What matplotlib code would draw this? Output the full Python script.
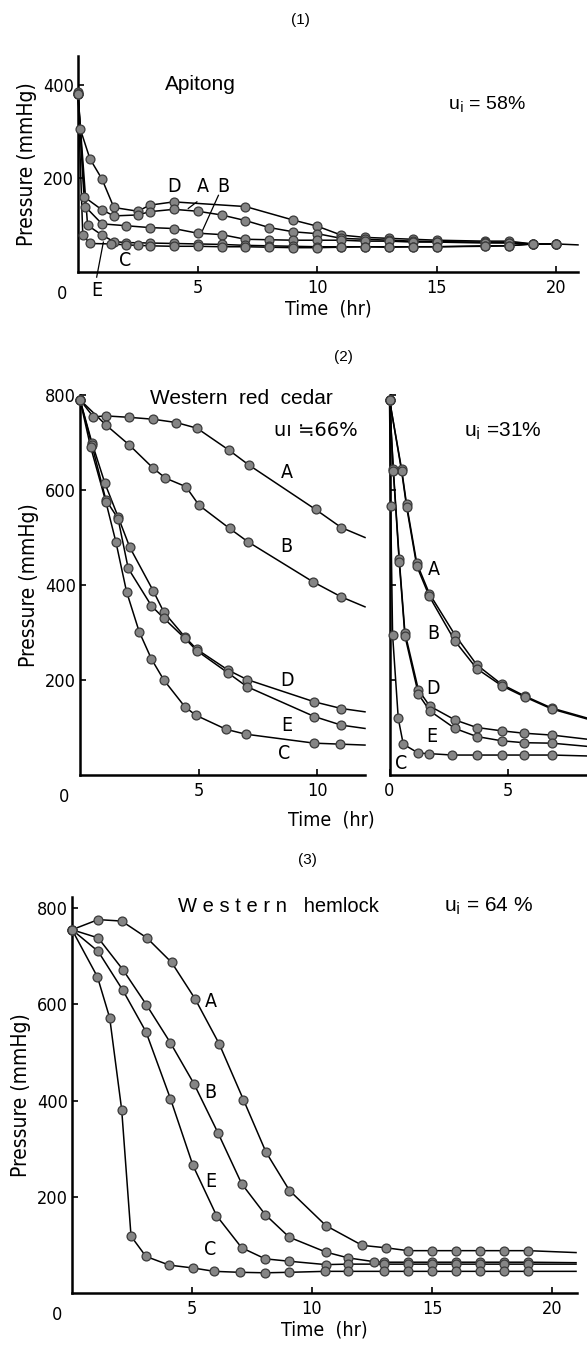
import matplotlib
matplotlib.use("Agg")
import matplotlib.pyplot as plt

# ---------------- data ----------------
# (1) Apitong, ui = 58 %
ap_D_t = [0, 0.1, 0.5, 1, 1.5, 2.5, 3, 4, 7, 9, 10, 11, 12, 13, 14, 15, 17, 18, 19, 20]
ap_D_p = [385, 305, 242, 199, 138, 130, 143, 150, 140, 111, 98, 79, 74, 72, 70, 68, 66, 66, 60, 60]
ap_A_t = [0, 0.25, 1, 1.5, 2.5, 3, 4, 5, 6, 7, 8, 9, 10, 11, 12, 13, 14, 15, 17, 18, 19, 20]
ap_A_p = [380, 161, 133, 120, 122, 129, 134, 130, 122, 110, 95, 86, 82, 72, 70, 68, 66, 65, 64, 63, 60, 60]
ap_B_t = [0, 0.3, 1, 2, 3, 4, 5, 6, 7, 8, 9, 10, 11, 12, 13, 14, 15, 17, 18, 19, 20]
ap_B_p = [380, 140, 103, 99, 95, 93, 83, 80, 70, 69, 68, 68, 68, 66, 66, 64, 64, 62, 62, 60, 60]
ap_E_t = [0, 0.4, 1, 1.5, 2, 3, 4, 5, 6, 7, 8, 9, 10, 11, 12, 13, 14, 15, 17, 18, 19, 20]
ap_E_p = [380, 100, 79, 65, 63, 62, 61, 60, 59, 57, 56, 55, 54, 54, 54, 54, 54, 54, 56, 56, 60, 60]
ap_C_t = [0, 0.2, 0.5, 1.4, 2, 2.5, 3, 4, 5, 6, 7, 8, 9, 10, 11, 12, 13, 14, 15, 17, 18, 19, 20]
ap_C_p = [380, 79, 61, 60, 58, 57, 56, 55, 55, 54, 54, 53, 52, 52, 53, 54, 53, 54, 54, 55, 56, 60, 60]

# (2) Western red cedar, ui = 66 %
rc_A_t = [0, 0.56, 1.09, 2.07, 3.08, 4.06, 4.93, 6.27, 7.1, 9.92, 11.0, 12.0]
rc_A_p = [790, 754, 756, 753, 749, 742, 730, 684, 653, 559, 521, 500]
rc_B_t = [0, 1.09, 2.07, 3.08, 3.6, 4.46, 5.01, 6.3, 7.07, 9.8, 11.0, 12.0]
rc_B_p = [790, 737, 695, 646, 625, 607, 568, 519, 491, 407, 375, 354]
rc_D_t = [0, 0.5, 1.05, 1.6, 2.1, 3.08, 3.53, 4.41, 4.91, 6.23, 7.03, 9.87, 11.0, 12.0]
rc_D_p = [790, 700, 614, 544, 479, 388, 343, 291, 265, 221, 201, 154, 140, 133]
rc_E_t = [0, 0.5, 1.09, 1.6, 2.03, 3.01, 3.53, 4.41, 4.91, 6.23, 7.03, 9.87, 11.0, 12.0]
rc_E_p = [790, 695, 579, 540, 435, 356, 330, 288, 262, 215, 186, 123, 105, 98]
rc_C_t = [0, 0.45, 1.09, 1.51, 1.96, 2.49, 3.01, 3.53, 4.41, 4.87, 6.16, 6.97, 9.87, 10.95, 12.0]
rc_C_p = [790, 690, 575, 491, 386, 302, 244, 200, 144, 126, 96, 86, 67, 65, 63]

# (2) right, ui = 31 %
rc31_A_t = [0, 0.51, 0.72, 1.15, 1.68, 2.76, 3.68, 4.73, 5.72, 6.84, 8.4]
rc31_A_p = [790, 644, 570, 446, 382, 295, 232, 191, 166, 141, 119]
rc31_B_t = [0, 0.51, 0.72, 1.15, 1.68, 2.76, 3.68, 4.73, 5.72, 6.84, 8.4]
rc31_B_p = [790, 640, 565, 440, 376, 282, 224, 188, 164, 139, 117]
rc31_D_t = [0, 0.16, 0.41, 0.65, 1.22, 1.7, 2.76, 3.68, 4.73, 5.67, 6.86, 8.4]
rc31_D_p = [790, 645, 455, 300, 179, 145, 116, 100, 93, 88, 84, 75]
rc31_E_t = [0, 0.16, 0.41, 0.65, 1.22, 1.7, 2.76, 3.68, 4.73, 5.67, 6.86, 8.4]
rc31_E_p = [790, 640, 449, 293, 170, 135, 98, 81, 72, 68, 67, 60]
rc31_C_t = [0, 0.05, 0.13, 0.37, 0.58, 1.22, 1.68, 2.65, 3.68, 4.73, 5.67, 6.86, 8.4]
rc31_C_p = [790, 567, 295, 119, 65, 46, 45, 42, 42, 42, 42, 42, 40]

# (3) Western hemlock, ui = 64 %
wh_A_t = [0, 1.09, 2.07, 3.12, 4.15, 5.12, 6.13, 7.14, 8.08, 9.06, 10.58, 12.09, 13.07, 14, 15, 16, 17, 18, 19, 21]
wh_A_p = [755, 776, 773, 738, 687, 612, 518, 402, 293, 213, 140, 99, 94, 88, 88, 88, 88, 88, 88, 84]
wh_B_t = [0, 1.09, 2.12, 3.1, 4.1, 5.08, 6.08, 7.07, 8.05, 9.05, 10.58, 11.5, 12.6, 13, 14, 15, 16, 17, 18, 19, 21]
wh_B_p = [755, 738, 672, 599, 520, 435, 333, 227, 163, 116, 85, 73, 65, 64, 64, 64, 64, 64, 64, 64, 63]
wh_E_t = [0, 1.09, 2.12, 3.08, 4.1, 5.04, 6.02, 7.07, 8.05, 9.05, 10.58, 11.5, 13, 14, 15, 16, 17, 18, 19, 21]
wh_E_p = [755, 710, 629, 543, 404, 265, 161, 94, 71, 66, 59, 60, 60, 60, 60, 60, 60, 60, 60, 60]
wh_C_t = [0, 1.06, 1.57, 2.07, 2.46, 3.08, 4.05, 5.04, 5.93, 6.99, 8.05, 9.04, 10.55, 11.5, 13, 14, 15, 16, 17, 18, 19, 21]
wh_C_p = [755, 657, 572, 381, 118, 76, 58, 52, 45, 43, 42, 43, 45, 45, 45, 45, 45, 45, 45, 45, 45, 45]

# ---------------- layout helpers ----------------
W, H = 587, 1352
fig = plt.figure(figsize=(W / 100, H / 100), dpi=100)

NARROW = dict(family="DejaVu Sans", stretch="condensed")
SANS = dict(family=["Liberation Sans", "DejaVu Sans"])


def px_axes(x0, x1, y_top, y_bot):
    return fig.add_axes([x0 / W, 1 - y_bot / H, (x1 - x0) / W, (y_bot - y_top) / H])


def style(ax, xlim, ylim, xt, yt, ylabels=True):
    ax.set_xlim(*xlim)
    ax.set_ylim(*ylim)
    for s in ["top", "right"]:
        ax.spines[s].set_visible(False)
    for s in ["left", "bottom"]:
        ax.spines[s].set_linewidth(1.8)
    ax.set_xticks(xt)
    ax.set_yticks(yt)
    ax.tick_params(direction="in", length=4, width=1.2, pad=5)
    ax.tick_params(axis="y", pad=3)
    for lab in ax.get_xticklabels() + ax.get_yticklabels():
        lab.set_family("DejaVu Sans")
        lab.set_stretch("condensed")
        lab.set_fontsize(13)
    if not ylabels:
        ax.set_yticklabels([])


def curve(ax, t, p, last_marker=True):
    ax.plot(t, p, color="black", lw=1.1, zorder=2, clip_on=False)
    n = len(t) if last_marker else len(t) - 1
    ax.plot(t[:n], p[:n], ls="none", marker="o", ms=6.4, mfc="#858585",
            mec="#3a3a3a", mew=0.9, zorder=3, clip_on=False)


def letter(ax, x, y, s):
    ax.text(x, y, s, fontsize=14, ha="center", va="center", clip_on=False, **NARROW)


def origin_zero(ax, dx):
    ax.annotate("0", xy=(0, 0), xytext=(dx, -13), textcoords="offset pixels",
                ha="center", va="top", fontsize=13, annotation_clip=False, **NARROW)


# ---------------- (1) Apitong ----------------
fig.text(300 / W, 1 - 20 / H, "(1)", ha="center", va="center", fontsize=11, **SANS)
ax1 = px_axes(78, 578, 56, 272)
style(ax1, (0, 20.9), (0, 462), [5, 10, 15, 20], [200, 400])
origin_zero(ax1, -16)
for t, p in [(ap_D_t, ap_D_p), (ap_A_t, ap_A_p), (ap_B_t, ap_B_p),
             (ap_E_t, ap_E_p), (ap_C_t, ap_C_p)]:
    curve(ax1, t, p, last_marker=True)
ax1.plot([20, 20.9], [60, 58], color="black", lw=1.1, clip_on=False)
ax1.text(5.12, 400, "Apitong", fontsize=15, ha="center", va="center", **SANS)
ax1.text(17.1, 357, r"u$_\mathrm{i}$ = 58%", fontsize=14, ha="center", va="center", **SANS)
letter(ax1, 4.02, 182, "D")
letter(ax1, 5.24, 183, "A")
letter(ax1, 6.08, 183, "B")
letter(ax1, 1.97, 25, "C")
letter(ax1, 0.8, -39, "E")
ax1.plot([4.61, 4.97], [136, 150], color="black", lw=0.9)
ax1.plot([5.87, 5.18], [164, 86], color="black", lw=0.9)
ax1.plot([0.78, 1.06], [-11, 64], color="black", lw=0.9, clip_on=False)
ax1.set_ylabel("Pressure (mmHg)", fontsize=15, labelpad=4, **NARROW)
ax1.set_xlabel("Time  (hr)", fontsize=14, labelpad=2, **NARROW)

# ---------------- (2) Western red cedar ----------------
fig.text(343 / W, 1 - 357 / H, "(2)", ha="center", va="center", fontsize=11, **SANS)
ax2 = px_axes(80, 365, 395, 775)
style(ax2, (0, 12.0), (0, 800), [5, 10], [200, 400, 600, 800])
origin_zero(ax2, -16)
for t, p in [(rc_A_t, rc_A_p), (rc_B_t, rc_B_p), (rc_D_t, rc_D_p),
             (rc_E_t, rc_E_p), (rc_C_t, rc_C_p)]:
    curve(ax2, t, p, last_marker=False)
ax2.text(6.79, 793, "Western  red  cedar", fontsize=15, ha="center", va="center", **SANS)
ax2.text(9.95, 726, "u\u0131 \u225266%", fontsize=14, ha="center", va="center",
         family="DejaVu Sans")
letter(ax2, 8.7, 636, "A")
letter(ax2, 8.7, 480, "B")
letter(ax2, 8.7, 200, "D")
letter(ax2, 8.7, 105, "E")
letter(ax2, 8.6, 45, "C")
ax2.set_ylabel("Pressure (mmHg)", fontsize=15, labelpad=4, **NARROW)

ax2b = px_axes(389.5, 587, 395, 775)
style(ax2b, (0, 8.33), (0, 800), [0, 5], [200, 400, 600, 800], ylabels=False)
for t, p in [(rc31_A_t, rc31_A_p), (rc31_B_t, rc31_B_p), (rc31_D_t, rc31_D_p),
             (rc31_E_t, rc31_E_p), (rc31_C_t, rc31_C_p)]:
    curve(ax2b, t, p, last_marker=False)
ax2b.text(4.79, 723, r"u$_\mathrm{i}$ =31%", fontsize=15, ha="center", va="center", **SANS)
letter(ax2b, 1.88, 432, "A")
letter(ax2b, 1.85, 298, "B")
letter(ax2b, 1.85, 183, "D")
letter(ax2b, 1.78, 81, "E")
letter(ax2b, 0.47, 25, "C")
fig.text(331 / W, 1 - 820 / H, "Time  (hr)", ha="center", va="center", fontsize=14, **NARROW)

# ---------------- (3) Western hemlock ----------------
fig.text(307 / W, 1 - 860 / H, "(3)", ha="center", va="center", fontsize=11, **SANS)
ax3 = px_axes(72, 577, 897, 1293)
style(ax3, (0, 21.04), (0, 823), [5, 10, 15, 20], [200, 400, 600, 800])
origin_zero(ax3, -15)
for t, p in [(wh_A_t, wh_A_p), (wh_B_t, wh_B_p), (wh_E_t, wh_E_p), (wh_C_t, wh_C_p)]:
    curve(ax3, t, p, last_marker=False)
ax3.text(8.6, 804, "W e s t e r n   hemlock", fontsize=14.5, ha="center", va="center", **SANS)
ax3.text(17.37, 804, r"u$_\mathrm{i}$ = 64 %", fontsize=15, ha="center", va="center", **SANS)
letter(ax3, 5.77, 606, "A")
letter(ax3, 5.77, 416, "B")
letter(ax3, 5.77, 232, "E")
letter(ax3, 5.77, 90, "C")
ax3.set_ylabel("Pressure (mmHg)", fontsize=15, labelpad=4, **NARROW)
ax3.set_xlabel("Time  (hr)", fontsize=14, labelpad=2, **NARROW)

fig.savefig("out.png", dpi=100)
